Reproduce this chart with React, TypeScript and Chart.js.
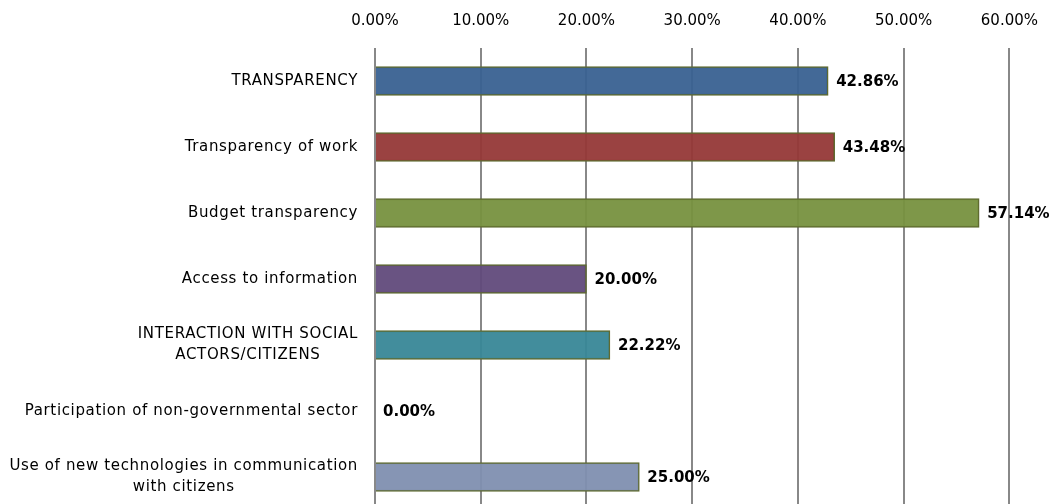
import React, { useEffect, useRef } from "react";
import { Chart, registerables } from "chart.js";

Chart.register(...registerables);

const categories: string[][] = [
  ["TRANSPARENCY"],
  ["Transparency of work"],
  ["Budget transparency"],
  ["Access to information"],
  ["INTERACTION WITH SOCIAL", "ACTORS/CITIZENS"],
  ["Participation of non-governmental sector"],
  ["Use of new technologies in communication", "with citizens"],
];
const values = [42.86, 43.48, 57.14, 20.0, 22.22, 0.0, 25.0];
const barColors = [
  "rgba(57,97,145,0.95)",
  "rgba(149,56,55,0.95)",
  "rgba(119,145,63,0.95)",
  "rgba(97,74,123,0.95)",
  "rgba(56,135,151,0.95)",
  "rgba(80,120,140,0.95)",
  "rgba(127,143,176,0.95)",
];
const xTicksMax = 60;

const FONT = "'DejaVu Sans', sans-serif";

const valueLabels = {
  id: "valueLabels",
  afterDatasetsDraw(chart: any) {
    const ctx = chart.ctx;
    const meta = chart.getDatasetMeta(0);
    ctx.save();
    ctx.font = `bold 15px ${FONT}`;
    ctx.fillStyle = "#000";
    ctx.textAlign = "left";
    ctx.textBaseline = "middle";
    meta.data.forEach((bar: any, i: number) => {
      ctx.fillText(values[i].toFixed(2) + "%", bar.x + 8, bar.y + 1);
    });
    ctx.restore();
  },
};

const categoryLabels = {
  id: "categoryLabels",
  afterDraw(chart: any) {
    const ctx = chart.ctx;
    const yScale = chart.scales.y;
    const right = yScale.right - 17;
    ctx.save();
    ctx.font = `15px ${FONT}`;
    (ctx as any).letterSpacing = "0.65px";
    ctx.fillStyle = "#000";
    ctx.textAlign = "center";
    ctx.textBaseline = "middle";
    const lh = 21;
    categories.forEach((lines, i) => {
      const cy = yScale.getPixelForTick(i);
      const maxW = Math.max(...lines.map((l) => ctx.measureText(l).width));
      const cx = right - maxW / 2;
      const start = cy - ((lines.length - 1) * lh) / 2;
      lines.forEach((line, j) => {
        ctx.fillText(line, cx, start + j * lh);
      });
    });
    ctx.restore();
  },
};

export default function App() {
  const ref = useRef<HTMLCanvasElement>(null);
  useEffect(() => {
    const chart = new Chart(ref.current!, {
      type: "bar",
      data: {
        labels: categories.map((l) => l.join(" ")),
        datasets: [
          {
            data: values,
            backgroundColor: barColors,
            borderColor: "#5f6b30",
            borderWidth: 1.5,
            barThickness: 29,
          },
        ],
      },
      options: {
        indexAxis: "y",
        responsive: false,
        animation: false,
        layout: { padding: { top: 0, right: 45, bottom: 6, left: 0 } },
        plugins: { legend: { display: false }, tooltip: { enabled: false } },
        scales: {
          x: {
            position: "top",
            min: 0,
            max: xTicksMax,
            ticks: {
              stepSize: 10,
              padding: 18,
              color: "#000",
              font: { family: FONT, size: 15 },
              callback: (v: any) => Number(v).toFixed(2) + "%",
            },
            grid: { color: "#888", lineWidth: 2, drawTicks: false },
            border: { display: false },
            afterFit: (s: any) => {
              s.height = 48;
            },
          },
          y: {
            ticks: { display: false },
            grid: { display: false, drawTicks: false },
            border: { display: false },
            afterFit: (s: any) => {
              s.width = 375;
              s.paddingTop = 0;
              s.paddingBottom = 0;
            },
          },
        },
      },
      plugins: [valueLabels, categoryLabels],
    });
    return () => chart.destroy();
  }, []);
  return (
    <div style={{ position: "absolute", left: 0, top: 0 }}>
      <canvas ref={ref} width={1056} height={516} />
    </div>
  );
}
